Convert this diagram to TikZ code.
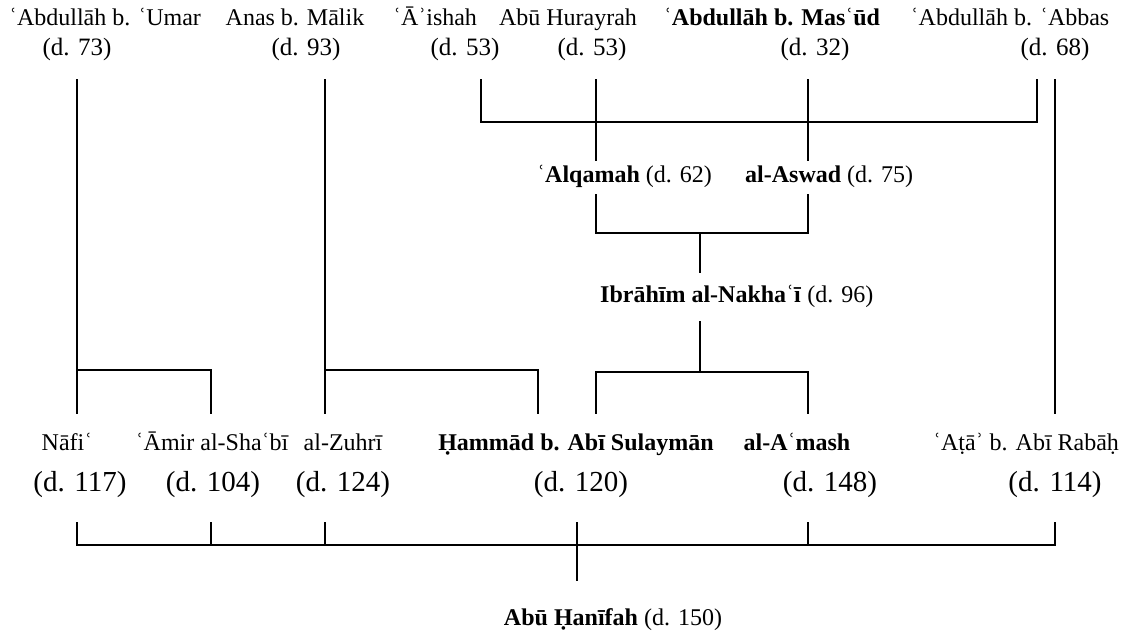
\documentclass[tikz,border=0pt]{standalone}
\usepackage{fontspec}
\setmainfont{Liberation Serif}
\begin{document}
\begin{tikzpicture}[x=1pt,y=-1pt,
  nm/.style={inner sep=0pt, anchor=base, font=\fontsize{24}{28}\selectfont},
  bnm/.style={nm, font=\fontsize{24}{28}\selectfont\bfseries},
  dt/.style={inner sep=0pt, anchor=base, font=\fontsize{25}{28}\selectfont},
  bdt/.style={inner sep=0pt, anchor=base, font=\fontsize{29}{32}\selectfont},
  link/.style={line width=1.5pt, line cap=rect}]
\useasboundingbox (0,0) rectangle (1142,635);
% top row
\node[nm] (umar) at (105,25) {ʿAbdullāh b. ʿUmar};
\node[dt] (umard) at (77,55) {(d. 73)};
\node[nm] (anas) at (295,25) {Anas b. Mālik};
\node[dt] (anasd) at (306,55) {(d. 93)};
\node[nm] (aisha) at (435,25) {ʿĀʾishah};
\node[dt] (aishad) at (465,55) {(d. 53)};
\node[nm] (abuh) at (568,25) {Abū Hurayrah};
\node[dt] (abuhd) at (592,55) {(d. 53)};
\node[bnm] (masud) at (772,25) {ʿAbdullāh b. Masʿūd};
\node[dt] (masudd) at (815,55) {(d. 32)};
\node[nm] (abbas) at (1010,25) {ʿAbdullāh b. ʿAbbas};
\node[dt] (abbasd) at (1055,55) {(d. 68)};
% middle
\node[nm, anchor=base west] (alqamah) at (537,182) {\textbf{ʿAlqamah} (d. 62)};
\node[nm, anchor=base west] (aswad) at (745,182) {\textbf{al-Aswad} (d. 75)};
\node[nm, anchor=base west] (ibrahim) at (600,302) {\textbf{Ibrāhīm al-Nakhaʿī} (d. 96)};
% bottom row
\node[nm] (nafi) at (67,450) {Nāfiʿ};
\node[bdt] (nafid) at (80,491) {(d. 117)};
\node[nm] (amir) at (212,450) {ʿĀmir al-Shaʿbī};
\node[bdt] (amird) at (213,491) {(d. 104)};
\node[nm] (zuhri) at (343,450) {al-Zuhrī};
\node[bdt] (zuhrid) at (343,491) {(d. 124)};
\node[bnm] (hammad) at (576,450) {Ḥammād b. Abī Sulaymān};
\node[bdt] (hammadd) at (581,491) {(d. 120)};
\node[bnm] (amash) at (797,450) {al-Aʿmash};
\node[bdt] (amashd) at (830,491) {(d. 148)};
\node[nm] (ata) at (1026,450) {ʿAṭāʾ b. Abī Rabāḥ};
\node[bdt] (atad) at (1055,491) {(d. 114)};
\node[nm, anchor=base] (hanifah) at (613,625) {\textbf{Abū Ḥanīfah} (d. 150)};
% junction coordinates
\coordinate (umarT) at (77,80);
\coordinate (nafiT) at (77,413);
\coordinate (umarJ) at (77,370);
\coordinate (amirT) at (211,413);
\coordinate (anasT) at (325,80);
\coordinate (zuhriT) at (325,413);
\coordinate (anasJ) at (325,370);
\coordinate (hammadTa) at (538,413);
\coordinate (aishaT) at (481,80);
\coordinate (abuhT) at (596,80);
\coordinate (masudT) at (808,80);
\coordinate (abbasBr) at (1037,80);
\coordinate (topbar) at (0,122);
\coordinate (alqamahT) at (596,160);
\coordinate (aswadT) at (808,160);
\coordinate (abbasT) at (1055,80);
\coordinate (ataT) at (1055,413);
\coordinate (alqamahB) at (596,195);
\coordinate (aswadB) at (808,195);
\coordinate (midbar) at (0,233);
\coordinate (ibrahimT) at (700,272);
\coordinate (ibrahimB) at (700,322);
\coordinate (lowbar) at (0,372);
\coordinate (hammadTb) at (596,413);
\coordinate (amashT) at (808,413);
\coordinate (nafiB) at (77,523);
\coordinate (amirB) at (211,523);
\coordinate (zuhriB) at (325,523);
\coordinate (hammadB) at (577,523);
\coordinate (amashB) at (808,523);
\coordinate (ataB) at (1055,523);
\coordinate (botbar) at (0,545);
\coordinate (hanifahT) at (577,580);
% connectors
\draw[link] (umarT) -- (nafiT);
\draw[link] (umarJ) -| (amirT);
\draw[link] (anasT) -- (zuhriT);
\draw[link] (anasJ) -| (hammadTa);
\draw[link] (aishaT) |- (topbar -| abbasBr) -- (abbasBr);
\draw[link] (abuhT) -- (alqamahT);
\draw[link] (masudT) -- (aswadT);
\draw[link] (abbasT) -- (ataT);
\draw[link] (alqamahB) |- (midbar -| aswadB) -- (aswadB);
\draw[link] (ibrahimT) -- (ibrahimT |- midbar);
\draw[link] (ibrahimB) -- (ibrahimB |- lowbar);
\draw[link] (hammadTb) |- (lowbar -| amashT) -- (amashT);
\draw[link] (nafiB) |- (botbar -| ataB) -- (ataB);
\draw[link] (amirB) -- (amirB |- botbar);
\draw[link] (zuhriB) -- (zuhriB |- botbar);
\draw[link] (amashB) -- (amashB |- botbar);
\draw[link] (hammadB) -- (hanifahT);
\end{tikzpicture}
\end{document}
